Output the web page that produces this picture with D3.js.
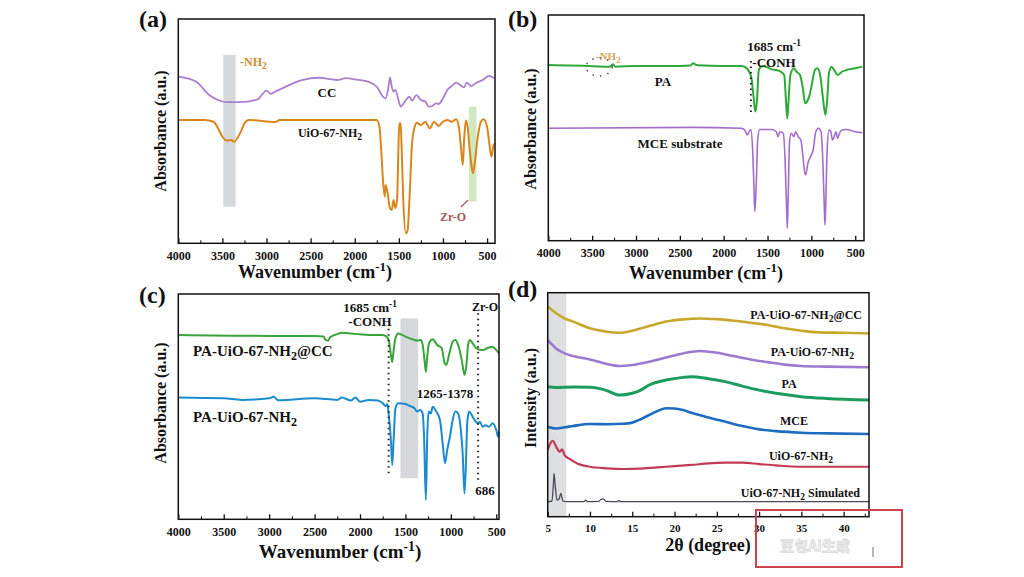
<!DOCTYPE html>
<html>
<head>
<meta charset="utf-8">
<script src="https://cdn.jsdelivr.net/npm/d3@7"></script>
<style>
  body { margin: 0; background: #fff; }
  svg { display: block; }
</style>
</head>
<body>
<div id="app"></div>
<script>
'use strict'

// (a) FTIR, wavenumber (cm-1) vs absorbance (a.u.)
const ccA = [[4000,74.3],[3800,72.1],[3650,66.1],[3550,63.9],[3450,62.9],[3300,62.9],[3100,64.2],[3000,68.1],[2950,66.6],[2900,67.6],[2800,69.5],[2600,72.8],[2400,73.8],[2200,72.8],[2100,73.6],[2000,73.1],[1850,72.1],[1750,69.8],[1680,65.4],[1650,64.6],[1620,69.1],[1600,74.0],[1580,69.8],[1560,67.6],[1540,68.4],[1500,63.2],[1480,60.9],[1450,62.1],[1420,63.9],[1380,65.4],[1350,63.6],[1300,66.1],[1250,63.9],[1200,63.2],[1160,60.9],[1120,61.2],[1080,62.4],[1050,62.1],[1000,64.6],[950,68.4],[900,70.1],[850,71.6],[800,70.4],[760,69.5],[730,71.6],[680,70.1],[620,71.6],[550,72.8],[480,74.6],[420,73.6]]
const uioA = [[4000,55],[3700,55],[3600,54.2],[3550,51.3],[3500,47.5],[3450,45.8],[3400,46.1],[3370,45.3],[3300,49],[3250,53.5],[3200,55],[2900,54.1],[2850,55],[1750,55],[1720,52],[1700,41.6],[1680,28.2],[1660,20.8],[1650,26],[1630,23],[1600,15.6],[1580,14.9],[1560,19.3],[1540,15.6],[1520,19.3],[1505,41.6],[1495,53.5],[1480,53.5],[1470,44.6],[1450,19.3],[1420,4.5],[1400,5.9],[1380,19.3],[1350,44.6],[1320,52],[1300,53.8],[1250,52.7],[1200,54.2],[1150,51.3],[1100,54.2],[1050,52.3],[1000,54.2],[950,55],[900,54.2],[850,55.3],[820,52],[790,40.1],[775,34.9],[760,46.1],[740,54.7],[720,52],[700,43.1],[680,35.7],[660,31.2],[640,35.7],[610,46.1],[570,54.2],[540,55.3],[500,52],[470,43.1],[450,38.6],[430,43.1],[410,44.6]]

// (b)
const paB = [[4000,77.8],[3600,77.5],[3300,77.1],[3260,78.2],[3240,77.1],[3000,77.4],[2500,77.4],[2380,77.6],[2350,78.6],[2300,77.7],[2000,77.4],[1800,77.4],[1750,76.8],[1720,75.6],[1700,74.2],[1680,71.2],[1660,64],[1640,57.2],[1620,62.3],[1600,75.6],[1560,77.4],[1500,76.8],[1450,75.9],[1400,75.6],[1350,74.9],[1310,73.4],[1290,62.3],[1275,54.2],[1260,62.3],[1240,73.4],[1200,76.4],[1170,74.9],[1130,73.4],[1100,68.2],[1070,60.9],[1050,61.6],[1020,64.5],[1000,68.2],[960,75.6],[930,76.4],[900,73.4],[870,63.8],[840,55.7],[820,62.3],[800,74.2],[770,77.1],[740,75.6],[700,73.4],[650,74.9],[600,75.6],[500,76.4],[420,77.1]]
const mceB = [[4000,49.8],[2350,50.2],[1800,49.8],[1760,49],[1730,46.8],[1710,48.3],[1690,49.3],[1670,40.2],[1655,23.9],[1645,12.9],[1630,23.9],[1612,44.6],[1590,49.3],[1450,49.3],[1400,48.3],[1380,46.1],[1360,48.3],[1320,47.6],[1300,35.7],[1285,18],[1275,5.5],[1265,18],[1250,43.1],[1230,47.6],[1200,46.1],[1180,48.3],[1150,46.1],[1120,44.6],[1100,38.7],[1080,31.3],[1065,29.1],[1040,34.3],[1010,37.2],[980,40.2],[950,48.3],[920,49.8],[890,48.3],[870,35.7],[855,18],[845,6.9],[835,18],[820,40.2],[800,49],[780,48.6],[760,44.6],[740,46.1],[720,48.3],[700,45.3],[680,47.6],[650,49],[600,49.3],[500,48.3],[420,47.9]]

// (c)
const paUioCcC = [[4000,81.8],[3000,81.4],[2500,81.4],[2400,81.1],[2380,79.6],[2350,79.3],[2330,80.8],[2250,82.2],[2200,82.8],[2100,82.5],[2000,82.1],[1900,81.8],[1750,81.8],[1700,80.8],[1680,78.8],[1660,73],[1645,69.8],[1630,75],[1610,80.3],[1580,82.5],[1500,81.1],[1450,80.3],[1400,79.6],[1370,79.3],[1330,79.6],[1310,77.4],[1290,70.7],[1275,65.5],[1260,72.2],[1240,78.1],[1200,79.9],[1150,77.4],[1100,75.9],[1070,69.5],[1050,68.5],[1020,73],[980,78.8],[950,79.6],[920,77.4],[880,70.7],[850,64.1],[830,68],[810,77.4],[790,79.6],[760,78.1],[720,75.9],[650,75.1],[600,75.9],[540,76.6],[500,75.1],[470,73.7]]
const paUioC = [[4000,54.1],[3500,53.7],[3300,53],[3000,53.7],[2950,54.4],[2900,52.8],[2500,53.7],[2250,53],[2200,54.1],[2100,52.7],[2050,54.1],[2000,52.2],[1900,53],[1800,52.7],[1750,51.5],[1720,50.3],[1700,51.2],[1685,47],[1660,35.2],[1645,24.1],[1630,35.2],[1610,49.3],[1580,51.5],[1500,51.2],[1450,50.3],[1400,49.3],[1370,47.8],[1340,48.5],[1310,47],[1295,36.7],[1275,8.6],[1260,36.7],[1245,47.8],[1220,47],[1200,50],[1160,47.8],[1120,44.1],[1090,33.7],[1065,24.9],[1040,30.8],[1010,36.7],[980,44.1],[950,47.8],[920,47],[890,39.6],[870,29.3],[850,11.5],[835,23.4],[820,42.6],[800,47.8],[770,46.3],[740,44.1],[700,42.6],[680,43.3],[650,41.1],[620,41.7],[580,41.1],[540,42.6],[500,39.6],[480,36.7],[470,38.9]]

// (d) XRD, 2theta (degree) vs intensity (a.u.)
const paUioCcD = [[5,93.8],[6,90.8],[7,88.5],[8,87.1],[10,84.1],[12,82.6],[13.5,82.1],[15,83],[17,85.1],[19,87.1],[21,88.1],[23,88.5],[25,88.2],[27,87.5],[29,86.6],[31,85.6],[33,84.1],[35,83],[37,82.3],[40,82.1],[43,81.8]]
const paUioD = [[5,78.9],[6,75.1],[7,72.9],[8,71.7],[10,70.2],[12,68.2],[13.5,67.3],[15,67.7],[17,69.2],[19,71.1],[21,72.9],[23,74],[25,73.2],[27,71.7],[29,70.2],[31,69],[33,67.9],[35,67.3],[38,67],[43,66.7]]
const paD = [[5,58],[6,57.7],[8,57.9],[10,57.8],[11,57.3],[12,56.3],[13.5,54.3],[15,55.1],[16,56.5],[17,58.8],[19,61],[21,62.2],[22,62.5],[24,61.6],[26,60.3],[28,58.3],[30,56.5],[32,55.1],[35,53.6],[38,52.8],[43,52.1]]
const mceD = [[5,40.2],[6,39.4],[7,39.9],[8,40.5],[10,41.4],[12,41.3],[14,41.5],[15,42],[16,43.5],[17,45.4],[18,47.2],[19,48.4],[20,48.3],[21,47.6],[22,46.4],[24,44.3],[26,42.4],[28,40.5],[30,39],[32,38.2],[35,37.5],[38,37.2],[43,36.9]]
const uioD = [[5,29.8],[5.3,32.7],[5.6,33.9],[6,31.3],[6.4,29],[6.7,30.1],[7,27.5],[7.5,26],[8.5,23.8],[10,22.3],[12,21.6],[14,21.3],[16,21.5],[18,22],[20,22.6],[22,23.1],[24,23.8],[26,24.1],[28,24.1],[30,23.5],[32,22.9],[35,22.3],[38,22.3],[43,22.3]]
const simD = [[5,6.7],[5.5,7],[5.65,13],[5.75,19.3],[5.9,13.4],[6.1,7.4],[6.35,8],[6.55,10.4],[6.8,7],[7.2,6.7],[9.3,6.7],[9.5,7.4],[9.7,6.7],[11,6.8],[11.3,7.7],[11.6,8],[11.9,6.8],[13.2,6.7],[13.4,7.3],[13.6,6.7],[43,6.7]]

const irTicks = [4000, 3500, 3000, 2500, 2000, 1500, 1000, 500]
const irMinor = [3750, 3250, 2750, 2250, 1750, 1250, 750]
const xrdTicks = [5, 10, 15, 20, 25, 30, 35, 40]
const xrdMinor = [7.5, 12.5, 17.5, 22.5, 27.5, 32.5, 37.5, 42.5]

const serif = '"Liberation Serif", "Times New Roman", serif'

const svg = d3.select('#app')
  .append('svg')
  .attr('width', 1024)
  .attr('height', 577)

// text with sub/superscript parts: [['UiO-67-NH'], ['2', 'sub']]
const rich = (g, parts, x, y, size, anchor, fill, rotate) => {
  const t = g.append('text')
    .attr('x', x)
    .attr('y', y)
    .attr('text-anchor', anchor || 'middle')
    .attr('font-family', serif)
    .attr('font-weight', 'bold')
    .attr('font-size', size)
    .attr('fill', fill || '#111')
  if (rotate) t.attr('transform', `rotate(-90, ${x}, ${y})`)
  let shift = 0
  parts.forEach(p => {
    const sp = t.append('tspan').text(p[0])
    let target = 0
    if (p[1] === 'sub') { target = size * 0.28; sp.attr('font-size', size * 0.8) }
    if (p[1] === 'sup') { target = -size * 0.38; sp.attr('font-size', size * 0.72) }
    if (target !== shift) sp.attr('dy', target - shift)
    shift = target
  })
  return t
}

const panel = cfg => {
  const g = svg.append('g')
  const x = d3.scaleLinear().domain(cfg.xDomain).range([cfg.left, cfg.right])
  const y = d3.scaleLinear().domain([0, 100]).range([cfg.bottom, cfg.top])

  // shaded bands
  ;(cfg.bands || []).forEach(b => {
    g.append('rect')
      .attr('x', x(b.from))
      .attr('width', x(b.to) - x(b.from))
      .attr('y', y(b.y1))
      .attr('height', y(b.y0) - y(b.y1))
      .attr('fill', b.color)
  })

  const line = d3.line()
    .x(d => x(d[0]))
    .y(d => y(d[1]))
    .curve(d3.curveMonotoneX)

  cfg.series.forEach(s => {
    g.append('path')
      .datum(s.data)
      .attr('fill', 'none')
      .attr('stroke', s.color)
      .attr('stroke-width', s.width || 2)
      .attr('stroke-linejoin', 'round')
      .attr('d', line)
  })

  ;(cfg.dotted || []).forEach(dl => {
    g.append('line')
      .attr('x1', x(dl.x)).attr('x2', x(dl.x))
      .attr('y1', y(dl.y0)).attr('y2', y(dl.y1))
      .attr('stroke', '#222')
      .attr('stroke-width', 2)
      .attr('stroke-dasharray', '1.5 4')
  })

  // axes
  const h = cfg.bottom
  g.append('g')
    .attr('transform', `translate(0,${h})`)
    .call(d3.axisBottom(x).tickValues(cfg.minor).tickSize(-3).tickFormat(''))
    .call(a => a.select('.domain').remove())
  const ax = g.append('g')
    .attr('transform', `translate(0,${h})`)
    .attr('font-family', serif)
    .call(d3.axisBottom(x).tickValues(cfg.ticks).tickSize(-5).tickPadding(8).tickFormat(d3.format('d')))
  ax.select('.domain').remove()
  ax.selectAll('line').attr('stroke', '#111').attr('stroke-width', 1.3)
  ax.selectAll('text')
    .attr('font-family', serif)
    .attr('font-weight', 'bold')
    .attr('font-size', cfg.tickSize || 12)
    .attr('fill', '#111')

  g.append('rect')
    .attr('x', cfg.left)
    .attr('y', cfg.top)
    .attr('width', cfg.right - cfg.left)
    .attr('height', cfg.bottom - cfg.top)
    .attr('fill', 'none')
    .attr('stroke', '#111')
    .attr('stroke-width', 1.5)

  rich(g, cfg.xTitle, cfg.xTitlePos[0], cfg.xTitlePos[1], cfg.xTitleSize || 18)
  rich(g, [[cfg.yTitle]], cfg.yTitlePos[0], cfg.yTitlePos[1], 16, 'middle', '#111', true)
  rich(g, [[cfg.tag]], cfg.tagPos[0], cfg.tagPos[1], 24, 'start')

  cfg.labels.forEach(l => rich(g, l.parts, l.at[0], l.at[1], l.size || 13, l.anchor, l.color))
  return { g, x, y }
}

const wn = [['Wavenumber (cm'], ['-1', 'sup'], [')']]
const nh2 = [['UiO-67-NH'], ['2', 'sub']]

// (a)
const pa = panel({
  tag: '(a)', tagPos: [139, 27],
  xDomain: [4000, 410], left: 178.3, right: 495, top: 19, bottom: 243.3,
  ticks: irTicks, minor: irMinor,
  xTitle: wn, xTitlePos: [315, 278],
  yTitle: 'Absorbance (a.u.)', yTitlePos: [166, 131],
  bands: [
    { from: 3490, to: 3350, y0: 16.3, y1: 84, color: '#d6d9dc' },
    { from: 705, to: 620, y0: 18.6, y1: 60.9, color: '#cfe8bd' }
  ],
  series: [
    { data: ccA, color: '#a880cf', width: 1.8 },
    { data: uioA, color: '#d9861f', width: 2 }
  ],
  labels: [
    { parts: [['-NH'], ['2', 'sub']], at: [240, 66], anchor: 'start', color: '#d38b2e', size: 12 },
    { parts: [['CC']], at: [327, 97] },
    { parts: nh2, at: [330, 137], size: 12 },
    { parts: [['Zr-O']], at: [453, 221], size: 12, color: '#a8585a' }
  ]
})
pa.g.append('line')
  .attr('x1', 461).attr('y1', 207).attr('x2', 468).attr('y2', 200)
  .attr('stroke', '#a8585a').attr('stroke-width', 1.2)

// (b)
const pb = panel({
  tag: '(b)', tagPos: [508, 27],
  xDomain: [4000, 400], left: 548.3, right: 864, top: 15, bottom: 240.7,
  ticks: irTicks, minor: irMinor,
  xTitle: wn, xTitlePos: [706, 279],
  yTitle: 'Absorbance (a.u.)', yTitlePos: [536, 129],
  series: [
    { data: paB, color: '#2fa83a', width: 2 },
    { data: mceB, color: '#a56ccc', width: 1.6 }
  ],
  dotted: [{ x: 1690, y0: 57, y1: 80 }],
  labels: [
    { parts: [['-NH'], ['2', 'sub']], at: [596, 60], anchor: 'start', color: '#d9a45a', size: 11 },
    { parts: [['1685 cm'], ['-1', 'sup']], at: [774, 51] },
    { parts: [['-CONH']], at: [774, 67] },
    { parts: [['PA']], at: [663, 86] },
    { parts: [['MCE substrate']], at: [680, 148] }
  ]
})
pb.g.append('ellipse')
  .attr('cx', pb.x(3420)).attr('cy', pb.y(77))
  .attr('rx', 13).attr('ry', 9)
  .attr('fill', 'none').attr('stroke', '#555')
  .attr('stroke-width', 1.6).attr('stroke-dasharray', '1.5 6')

// (c)
panel({
  tag: '(c)', tagPos: [139, 303],
  xDomain: [4000, 470], left: 178.3, right: 499, top: 294, bottom: 519.3,
  ticks: irTicks, minor: irMinor,
  xTitle: wn, xTitlePos: [340, 558], xTitleSize: 19,
  yTitle: 'Absorbance (a.u.)', yTitlePos: [166, 403],
  bands: [{ from: 1555, to: 1360, y0: 18.2, y1: 89.2, color: '#d6d9dc' }],
  series: [
    { data: paUioCcC, color: '#39a43a', width: 2 },
    { data: paUioC, color: '#1b8bd0', width: 2 }
  ],
  dotted: [{ x: 1685, y0: 20.4, y1: 85.5 }, { x: 700, y0: 17.5, y1: 92.2 }],
  labels: [
    { parts: [['1685 cm'], ['-1', 'sup']], at: [370, 312] },
    { parts: [['-CONH']], at: [370, 326] },
    { parts: [['Zr-O']], at: [485, 311], size: 12 },
    { parts: [['1265-1378']], at: [445, 398] },
    { parts: [['686']], at: [485, 495] },
    { parts: [['PA-UiO-67-NH'], ['2', 'sub'], ['@CC']], at: [193, 356], anchor: 'start', size: 15 },
    { parts: [['PA-UiO-67-NH'], ['2', 'sub']], at: [193, 422], anchor: 'start', size: 15 }
  ]
})

// (d)
panel({
  tag: '(d)', tagPos: [508, 297],
  xDomain: [5, 43], left: 547.7, right: 869, top: 292.7, bottom: 516.7,
  ticks: xrdTicks, minor: xrdMinor, tickSize: 11,
  xTitle: [['2θ (degree)']], xTitlePos: [708, 551],
  yTitle: 'Intensity (a.u.)', yTitlePos: [536, 398],
  bands: [{ from: 5, to: 7.2, y0: 0, y1: 100, color: '#dedfe0' }],
  series: [
    { data: paUioCcD, color: '#c8a82c', width: 2.6 },
    { data: paUioD, color: '#9b7ad0', width: 2.6 },
    { data: paD, color: '#1c9c5c', width: 3 },
    { data: mceD, color: '#1e6cc0', width: 2.6 },
    { data: uioD, color: '#c23a55', width: 2.2 },
    { data: simD, color: '#4a4a58', width: 1.3 }
  ],
  labels: [
    { parts: [['PA-UiO-67-NH'], ['2', 'sub'], ['@CC']], at: [862, 319], anchor: 'end', size: 12 },
    { parts: [['PA-UiO-67-NH'], ['2', 'sub']], at: [854, 356], anchor: 'end', size: 12 },
    { parts: [['PA']], at: [789, 388], size: 12 },
    { parts: [['MCE']], at: [794, 425], size: 12 },
    { parts: nh2, at: [801, 460], size: 12 },
    { parts: [['UiO-67-NH'], ['2', 'sub'], [' Simulated']], at: [860, 497], anchor: 'end', size: 12 }
  ]
})

// watermark box
svg.append('rect')
  .attr('x', 756).attr('y', 510)
  .attr('width', 146).attr('height', 57)
  .attr('fill', 'none')
  .attr('stroke', '#d0424e')
  .attr('stroke-width', 2)
svg.append('text')
  .attr('x', 815).attr('y', 551)
  .attr('text-anchor', 'middle')
  .attr('font-family', '"Noto Sans CJK SC", sans-serif')
  .attr('font-weight', 'bold')
  .attr('font-size', 14)
  .attr('fill', '#f6f6f6')
  .attr('stroke', '#d8d8d8')
  .attr('stroke-width', 0.8)
  .text('豆包AI生成')
svg.append('line')
  .attr('x1', 873).attr('x2', 873).attr('y1', 547).attr('y2', 557)
  .attr('stroke', '#888').attr('stroke-width', 1.2)
</script>
</body>
</html>
